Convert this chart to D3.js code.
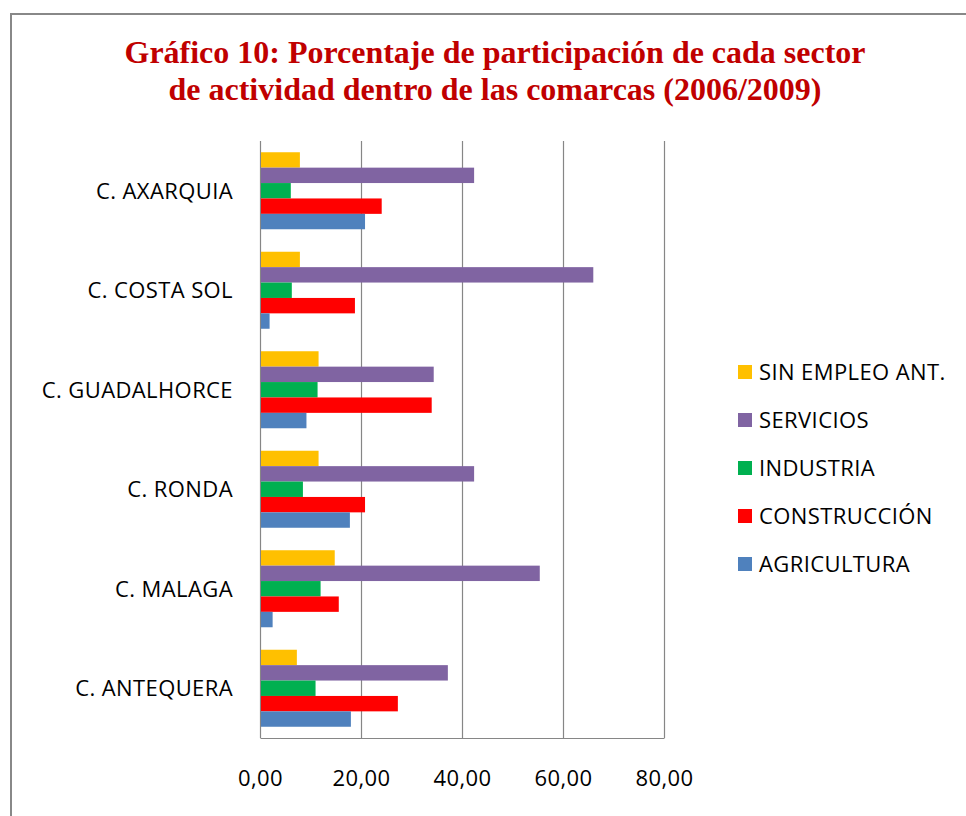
<!doctype html>
<html>
<head>
<meta charset="UTF-8">
<title>Gráfico 10</title>
<style>
  body { margin: 0; background: #fff; }
  .title { font-family: "Liberation Serif", serif; font-weight: bold; font-size: 31px; fill: #c00000; }
  .lbl { font-family: "Open Sans", sans-serif; font-size: 22px; letter-spacing: 0.4px; fill: #000; }
</style>
<script src="https://d3js.org/d3.v7.min.js"></script>
</head>
<body>
<svg id="chart" width="966" height="816"></svg>
<script>
// comarcas, top to bottom
var comarcas = ["C. AXARQUIA", "C. COSTA SOL", "C. GUADALHORCE", "C. RONDA", "C. MALAGA", "C. ANTEQUERA"];
// series, in the order the bars sit inside each group (top to bottom)
var sectores = ["SIN EMPLEO ANT.", "SERVICIOS", "INDUSTRIA", "CONSTRUCCIÓN", "AGRICULTURA"];
var colores = ["#ffc000", "#8064a2", "#00b050", "#ff0000", "#4f81bd"];

var sinEmpleo    = [7.8, 7.8, 11.5, 11.5, 14.7, 7.2];
var servicios    = [42.3, 65.9, 34.3, 42.3, 55.3, 37.1];
var industria    = [6.0, 6.2, 11.3, 8.4, 11.9, 10.9];
var construccion = [24.0, 18.7, 33.9, 20.7, 15.5, 27.2];
var agricultura  = [20.7, 1.8, 9.1, 17.7, 2.4, 17.9];

var ticks = [0, 20, 40, 60, 80];
var tickLabels = ["0,00", "20,00", "40,00", "60,00", "80,00"];

var series = [sinEmpleo, servicios, industria, construccion, agricultura];

var svg = d3.select("#chart");

// outer chart frame (only top and left edges visible)
svg.append("path")
  .attr("d", "M11,816 V14 H966")
  .attr("fill", "none")
  .attr("stroke", "#888")
  .attr("stroke-width", 2);

// title
svg.append("text").attr("class", "title")
  .attr("x", 495).attr("y", 63).attr("text-anchor", "middle")
  .attr("textLength", 741).attr("lengthAdjust", "spacingAndGlyphs")
  .text("Gráfico 10: Porcentaje de participación de cada sector");
svg.append("text").attr("class", "title")
  .attr("x", 495).attr("y", 100).attr("text-anchor", "middle")
  .attr("textLength", 653).attr("lengthAdjust", "spacingAndGlyphs")
  .text("de actividad dentro de las comarcas (2006/2009)");

// scales
var x = d3.scaleLinear().domain([0, 80]).range([260.5, 664.5]);
var y0 = d3.scaleBand().domain(comarcas).range([141, 738]).paddingInner(0.226).paddingOuter(0.113);
var y1 = d3.scaleBand().domain(sectores).range([0, y0.bandwidth()]);

// gridlines
svg.append("g").selectAll("line")
  .data(ticks)
  .enter().append("line")
  .attr("x1", function(d) { return x(d); })
  .attr("x2", function(d) { return x(d); })
  .attr("y1", 141).attr("y2", 738)
  .attr("stroke", "#868686").attr("stroke-width", 1.2);

// bottom axis line
svg.append("line")
  .attr("x1", x(0)).attr("x2", x(80))
  .attr("y1", 738.5).attr("y2", 738.5)
  .attr("stroke", "#868686").attr("stroke-width", 1.2);

// bars
var groups = svg.append("g").selectAll("g")
  .data(comarcas)
  .enter().append("g")
  .attr("transform", function(d) { return "translate(0," + y0(d) + ")"; });

groups.selectAll("rect")
  .data(function(d, i) {
    return sectores.map(function(s, j) { return { sector: s, value: series[j][i], color: colores[j] }; });
  })
  .enter().append("rect")
  .attr("x", x(0) + 0.5)
  .attr("y", function(d) { return y1(d.sector); })
  .attr("width", function(d) { return x(d.value) - x(0) - 0.5; })
  .attr("height", y1.bandwidth())
  .attr("fill", function(d) { return d.color; });

// category labels
svg.append("g").selectAll("text")
  .data(comarcas)
  .enter().append("text")
  .attr("class", "lbl")
  .attr("x", 233)
  .attr("y", function(d) { return y0(d) + y0.bandwidth() / 2 + 8; })
  .attr("text-anchor", "end")
  .text(function(d) { return d; });

// tick labels
svg.append("g").selectAll("text")
  .data(ticks)
  .enter().append("text")
  .attr("class", "lbl")
  .attr("x", function(d) { return x(d); })
  .attr("y", 786)
  .attr("text-anchor", "middle")
  .text(function(d, i) { return tickLabels[i]; });

// legend
var legend = svg.append("g").selectAll("g")
  .data(sectores)
  .enter().append("g")
  .attr("transform", function(d, i) { return "translate(738," + (365 + i * 48) + ")"; });

legend.append("rect")
  .attr("width", 14).attr("height", 14)
  .attr("fill", function(d, i) { return colores[i]; });

legend.append("text")
  .attr("class", "lbl")
  .attr("x", 21).attr("y", 15)
  .text(function(d) { return d; });
</script>
</body>
</html>
